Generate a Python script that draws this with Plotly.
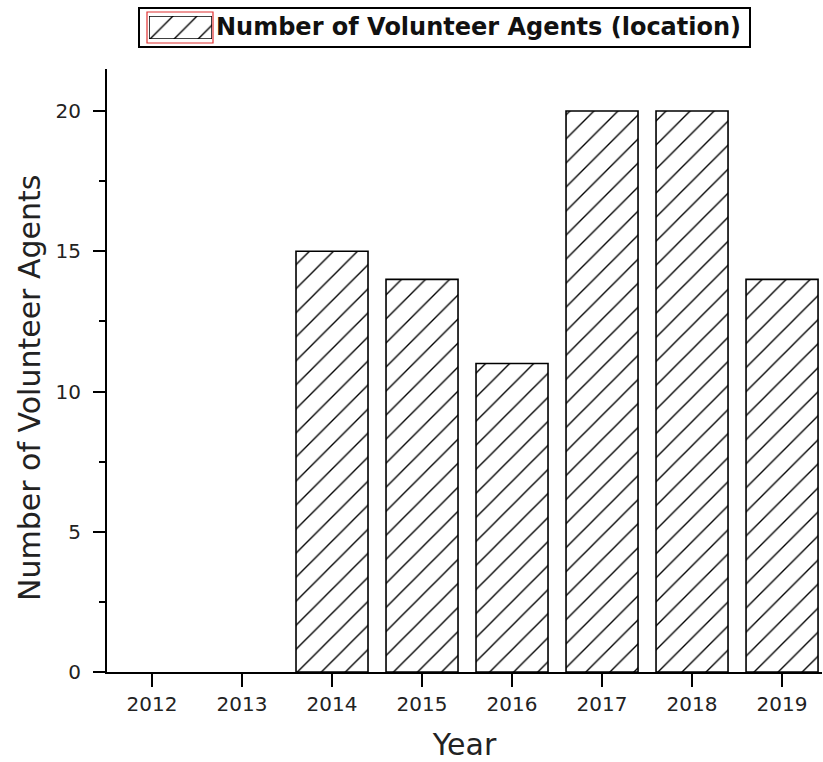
import plotly.graph_objects as go

years = [2012, 2013, 2014, 2015, 2016, 2017, 2018, 2019]
agents = [0, 0, 15, 14, 11, 20, 20, 14]
series_name = "Number of Volunteer Agents (location)"
y_title = "Number of Volunteer Agents"
y_ticks = [0, 5, 10, 15, 20]

W, H = 823, 762
L, R, T, B = 107, 1, 0, 90
PW, PH = W - L - R, H - T - B


def px_x(p):
    return (p - L) / PW


def px_y(p):
    return (H - B - p) / PH


pattern = dict(shape="/", fgcolor="black", bgcolor="white", size=17, solidity=0.08, fgopacity=1)

fig = go.Figure()
fig.add_trace(go.Bar(
    x=years, y=agents, name=series_name, width=0.8,
    marker=dict(color="white",
                line=dict(color="black", width=[0 if v == 0 else 1.6 for v in agents]),
                pattern=pattern),
    showlegend=False, xaxis="x", yaxis="y",
))
# legend swatch drawn as a patterned bar on its own small axes
fig.add_trace(go.Bar(
    x=[0], y=[1], width=1, showlegend=False, hoverinfo="skip",
    marker=dict(color="white", line=dict(color="black", width=1.5), pattern=pattern),
    xaxis="x2", yaxis="y2",
))

fig.update_layout(
    width=W, height=H,
    paper_bgcolor="white", plot_bgcolor="white",
    margin=dict(l=L, r=R, t=T, b=B),
    font=dict(family="DejaVu Sans", color="#222"),
    showlegend=False,
    xaxis=dict(
        domain=[0, 1], range=[2011.5, 2019.444], tickmode="array", tickvals=years,
        ticktext=[str(y) for y in years], anchor="y",
        showline=True, linecolor="black", linewidth=2, ticks="outside", ticklen=13, tickwidth=2,
        tickcolor="black", showgrid=False, zeroline=False, automargin=False,
        tickfont=dict(size=20, family="DejaVu Sans"),
        title=dict(text="Year", font=dict(size=30, family="DejaVu Sans"), standoff=20),
    ),
    yaxis=dict(
        domain=[0, px_y(69)], range=[0, 21.5], tickvals=y_ticks, anchor="x",
        showline=True, linecolor="black", linewidth=2, ticks="outside", ticklen=12, tickwidth=2,
        tickcolor="black", showgrid=False, zeroline=False, automargin=False,
        ticklabelstandoff=8,
        minor=dict(ticks="outside", ticklen=6, tickwidth=2, tickcolor="black", dtick=2.5, tick0=0),
        tickfont=dict(size=20, family="DejaVu Sans"),
    ),
    xaxis2=dict(domain=[px_x(149), px_x(212)], range=[-0.5, 0.5], anchor="y2",
                visible=False, fixedrange=True),
    yaxis2=dict(domain=[px_y(39), px_y(16)], range=[0, 1], anchor="x2",
                visible=False, fixedrange=True),
    shapes=[
        dict(type="rect", xref="paper", yref="paper",
             x0=px_x(139), x1=px_x(750), y0=px_y(47), y1=px_y(8),
             line=dict(color="black", width=2), fillcolor="rgba(0,0,0,0)", layer="below"),
        dict(type="rect", xref="paper", yref="paper",
             x0=px_x(147), x1=px_x(213), y0=px_y(43), y1=px_y(12),
             line=dict(color="#e03030", width=1.2), fillcolor="rgba(0,0,0,0)"),
    ],
    annotations=[
        dict(text=series_name, xref="paper", yref="paper", x=px_x(214), y=px_y(27),
             xanchor="left", yanchor="middle", showarrow=False,
             font=dict(size=24, family="DejaVu Sans", weight="bold", color="#111")),
        dict(text=y_title, xref="paper", yref="paper", x=px_x(30), y=px_y(388),
             xanchor="center", yanchor="middle", showarrow=False, textangle=-90,
             font=dict(size=30, family="DejaVu Sans", color="#222")),
    ],
)

fig.write_html("out.html", config={"displayModeBar": False},
               post_script="document.body.style.margin='0';")
